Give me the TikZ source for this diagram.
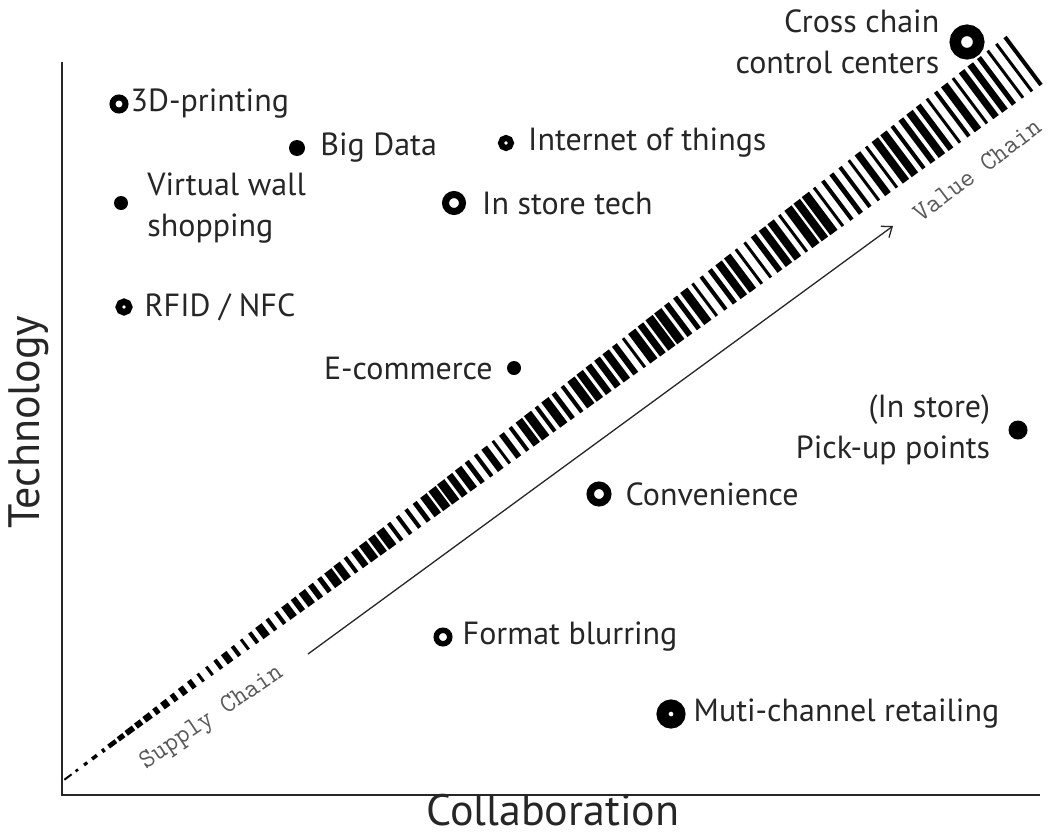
\documentclass[tikz,border=0pt]{standalone}
\usepackage{fontspec}
\setmainfont{PT Sans}
\usetikzlibrary{positioning,calc,arrows.meta}

\tikzset{
  dotm/.style={circle, fill=black, inner sep=0pt, minimum size=#1},
  ringm/.style 2 args={circle, draw=black, line width=#1, inner sep=0pt, minimum size=#2},
  lbl/.style={inner sep=0pt, font=\fontsize{32}{41}\selectfont, text=black!85},
  axlbl/.style={inner sep=0pt, font=\fontsize{44}{46}\selectfont, text=black!85},
  chain/.style={inner sep=0pt, font=\ttfamily\fontsize{27}{27}\selectfont, text=black!65}
}

\begin{document}
\begin{tikzpicture}[x=1pt, y=-1pt]
\useasboundingbox (0,0) rectangle (1051,838);
% axes
\coordinate (ytop) at (62,62);
\coordinate (orig) at (62,795);
\coordinate (xend) at (1040,795);
\draw[line width=2.2pt, black!85] (ytop) -- (orig) -- (xend);
\node[axlbl, rotate=90] (tech) at (29,422) {Technology};
\node[axlbl] (collab) at (553,810) {Collaboration};

% barcode band
\coordinate (bcA) at (68,777);
\coordinate (bcB) at (1023,61);
\pgfmathsetseed{7}
\foreach \i in {0,...,108}{
  \pgfmathsetmacro\bpos{\i/108}
  \pgfmathsetmacro\bw{3+int(7*rnd)}
  \pgfmathsetmacro\blen{2+58*\bpos}
  \draw[line width=\bw pt] ($(bcA)!\bpos!(bcB)+(-0.3*\blen,-0.4*\blen)$) -- ++(0.6*\blen,0.8*\blen);
}

% supply chain -> value chain
\coordinate (sc) at (308,654);
\coordinate (vc) at (893,226);
\draw[-{Straight Barb[length=9pt,width=14pt]}, line width=1.3pt, black!85] (sc) -- (vc);
\node[chain, rotate=34] (supply) at (212,718) {Supply Chain};
\node[chain, rotate=37] (value) at (977,170) {Value Chain};

% markers
\node[ringm={11.5pt}{23.5pt}] (mcross) at (967,42) {};
\node[lbl, align=right, left=10pt of mcross] (tcross) {Cross chain\\control centers};
\node[ringm={6pt}{13pt}] (m3d) at (119,104) {};
\node[lbl, right=2pt of m3d] (t3d) {3D-printing};
\node[dotm=16pt] (mbig) at (297,148) {};
\node[lbl, right=15pt of mbig] (tbig) {Big Data};
\node[ringm={6pt}{10pt}] (miot) at (506,143) {};
\node[lbl, right=14pt of miot] (tiot) {Internet of things};
\node[dotm=14pt] (mvirt) at (121,203) {};
\node[lbl, align=left, right=19pt of mvirt, yshift=-5pt] (tvirt) {Virtual wall\\shopping};
\node[ringm={7pt}{17pt}] (mstore) at (454,203) {};
\node[lbl, right=16pt of mstore] (tstore) {In store tech};
\node[ringm={6.5pt}{10.5pt}] (mrfid) at (124,307) {};
\node[lbl, right=12pt of mrfid] (trfid) {RFID / NFC};
\node[dotm=14pt] (mecom) at (514,368) {};
\node[lbl, left=14pt of mecom] (tecom) {E-commerce};
\node[dotm=19pt] (mpick) at (1018,430) {};
\node[lbl, align=right, left=18pt of mpick] (tpick) {(In store)\\Pick-up points};
\node[ringm={7.5pt}{17.5pt}] (mconv) at (599,494) {};
\node[lbl, right=14pt of mconv] (tconv) {Convenience};
\node[ringm={5.5pt}{13.5pt}] (mform) at (443,637) {};
\node[lbl, right=10pt of mform] (tform) {Format blurring};
\node[ringm={12pt}{17pt}] (mmulti) at (671,714) {};
\node[lbl, right=8pt of mmulti] (tmulti) {Muti-channel retailing};
\end{tikzpicture}
\end{document}
